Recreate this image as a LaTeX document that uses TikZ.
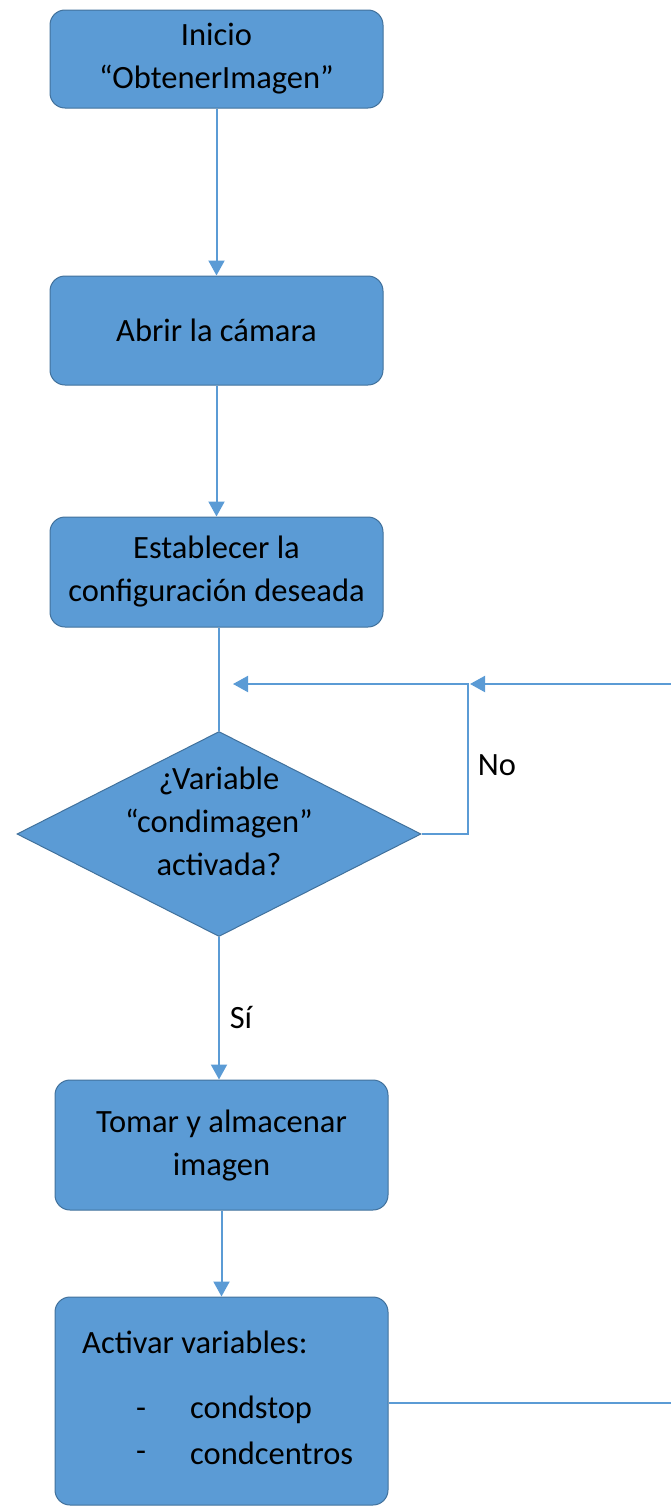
\documentclass[tikz,border=0pt]{standalone}
\usepackage{fontspec}
\setmainfont{Carlito}
\usetikzlibrary{shapes.geometric,arrows.meta}
\definecolor{boxfill}{HTML}{5B9BD5}
\definecolor{boxline}{HTML}{41719C}
\definecolor{conn}{HTML}{5B9BD5}
\tikzset{
  flowbox/.style={draw=boxline, line width=1pt, fill=boxfill, rounded corners=15pt,
    minimum width=333pt, inner sep=0pt, align=center,
    font=\fontsize{32.5}{43}\selectfont},
  decision/.style={diamond, draw=boxline, line width=1pt, fill=boxfill,
    minimum width=404pt, minimum height=205pt, inner sep=0pt},
  txt/.style={inner sep=0pt, align=center, font=\fontsize{32.5}{43}\selectfont},
  conline/.style={draw=conn, line width=2pt},
  conarrow/.style={conline, -{Triangle[width=16pt,length=15pt]}}
}
\begin{document}
\begin{tikzpicture}[x=1pt,y=-1pt]
\useasboundingbox (0,0) rectangle (671,1507);
\clip (0,0) rectangle (671,1507);
\node[flowbox, minimum height=98pt] (b1) at (216.5,59) {Inicio\\“ObtenerImagen”};
\node[flowbox, minimum height=109pt] (b2) at (216.5,330.5) {Abrir la cámara};
\node[flowbox, minimum height=110pt] (b3) at (216.5,572) {Establecer la\\configuración deseada};
\node[decision] (d) at (219,834) {};
\node[txt] (dt) at (219,821) {¿Variable\\“condimagen”\\activada?};
\node[flowbox, minimum height=130pt] (b4) at (221.5,1145) {Tomar y almacenar\\imagen};
\node[flowbox, minimum height=208pt] (b5) at (221.5,1401) {};
\node[txt, anchor=west] (t1) at (82,1342) {Activar variables:};
\node[txt] (dash1) at (141,1413) {-};
\node[txt, anchor=west] (t2) at (190,1410) {condstop};
\node[txt] (dash2) at (141,1456) {-};
\node[txt, anchor=west] (t3) at (190,1453) {condcentros};
\node[txt] (no) at (497,765) {No};
\node[txt] (si) at (241,1017) {Sí};

\coordinate (tipA) at (233,684);
\coordinate (jn) at (468,684);
\coordinate (tipB) at (470,684);
\coordinate (redge) at (680,1403);
\coordinate (rtop) at (680,684);

\draw[conarrow] (b1.south) -- (b2.north);
\draw[conarrow] (b2.south) -- (b3.north);
\draw[conline] (d.north |- b3.south) -- (d.north);
\draw[conarrow] (d.east) -- (d.east -| jn) -- (jn) -- (tipA);
\draw[conarrow] (b5.east |- redge) -- (redge) -- (rtop) -- (tipB);
\draw[conarrow] (d.south) -- (d.south |- b4.north);
\draw[conarrow] (b4.south) -- (b5.north);
\end{tikzpicture}
\end{document}
